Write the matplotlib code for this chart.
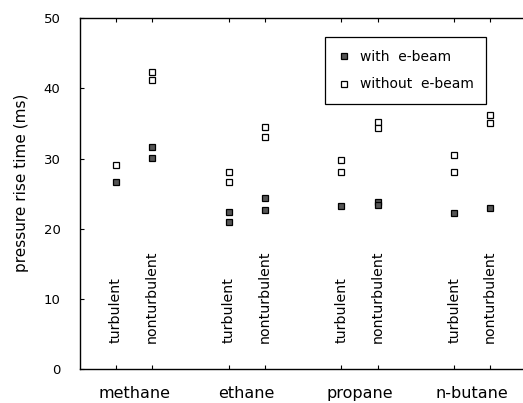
import matplotlib
matplotlib.use("Agg")
import matplotlib.pyplot as plt

plt.rcParams['font.family'] = ['DejaVu Sans']

gases = ["methane", "ethane", "propane", "n-butane"]
conditions = ["turbulent", "nonturbulent"]

# pressure rise time (ms), two shots per case where measured
with_ebeam = {
    ("methane", "turbulent"): [26.6],
    ("methane", "nonturbulent"): [31.6, 30.1],
    ("ethane", "turbulent"): [22.4, 20.9],
    ("ethane", "nonturbulent"): [24.4, 22.6],
    ("propane", "turbulent"): [23.2],
    ("propane", "nonturbulent"): [23.8, 23.4],
    ("n-butane", "turbulent"): [22.2],
    ("n-butane", "nonturbulent"): [22.9],
}
without_ebeam = {
    ("methane", "turbulent"): [29.1],
    ("methane", "nonturbulent"): [42.3, 41.2],
    ("ethane", "turbulent"): [28.1, 26.6],
    ("ethane", "nonturbulent"): [34.5, 33.0],
    ("propane", "turbulent"): [29.8, 28.1],
    ("propane", "nonturbulent"): [35.2, 34.3],
    ("n-butane", "turbulent"): [30.5, 28.1],
    ("n-butane", "nonturbulent"): [36.2, 35.0],
}

yticks = [0, 10, 20, 30, 40, 50]

fig = plt.figure(figsize=(5.23, 4.03), dpi=100)
ax = fig.add_axes([0.153, 0.084, 0.847, 0.871])

group_step = 3.13
positions = {}
for gi, g in enumerate(gases):
    for ci, c in enumerate(conditions):
        positions[(g, c)] = 1.0 + gi * group_step + ci

for key, x in positions.items():
    ys = with_ebeam[key]
    ax.plot([x] * len(ys), ys, linestyle='none', marker='s', markersize=5,
            markerfacecolor='#555555', markeredgecolor='black', markeredgewidth=0.9,
            label='with  e-beam' if key == ("methane", "turbulent") else None)
    ys = without_ebeam[key]
    ax.plot([x] * len(ys), ys, linestyle='none', marker='s', markersize=5,
            markerfacecolor='white', markeredgecolor='black', markeredgewidth=0.9,
            label='without  e-beam' if key == ("methane", "turbulent") else None)
    ax.text(x, 3.7, key[1], rotation=90, ha='center', va='bottom', fontsize=10.2)

ax.set_xlim(0, 12.3)
ax.set_ylim(0, 50)
ax.set_yticks(yticks)
ax.set_yticklabels([str(v) for v in yticks], fontsize=9.5)
ax.set_xticks(sorted(positions.values()))
ax.set_xticklabels([])
ax.tick_params(axis='x', direction='in', top=True, bottom=True, length=3, width=0.8)
ax.tick_params(axis='y', direction='in', left=True, right=False, length=3, width=0.8, pad=14)

for gi, g in enumerate(gases):
    xc = 1.5 + gi * group_step
    ax.text(xc, -0.068, g, transform=ax.get_xaxis_transform(), ha='center', va='center',
            fontsize=11.5)

ax.set_ylabel('pressure rise time (ms)', fontsize=11)
ax.yaxis.set_label_coords(-0.115, 0.53)

ax.spines['right'].set_visible(False)
for s in ('left', 'top', 'bottom'):
    ax.spines[s].set_linewidth(1.0)

leg = ax.legend(loc='upper left', bbox_to_anchor=(0.553, 0.946), fontsize=10,
                frameon=True, fancybox=False, edgecolor='black', framealpha=1,
                handletextpad=0.6, handlelength=1.0, borderpad=0.9, labelspacing=1.0,
                borderaxespad=0)
leg.get_frame().set_linewidth(0.9)

fig.savefig('out.png', dpi=100)
